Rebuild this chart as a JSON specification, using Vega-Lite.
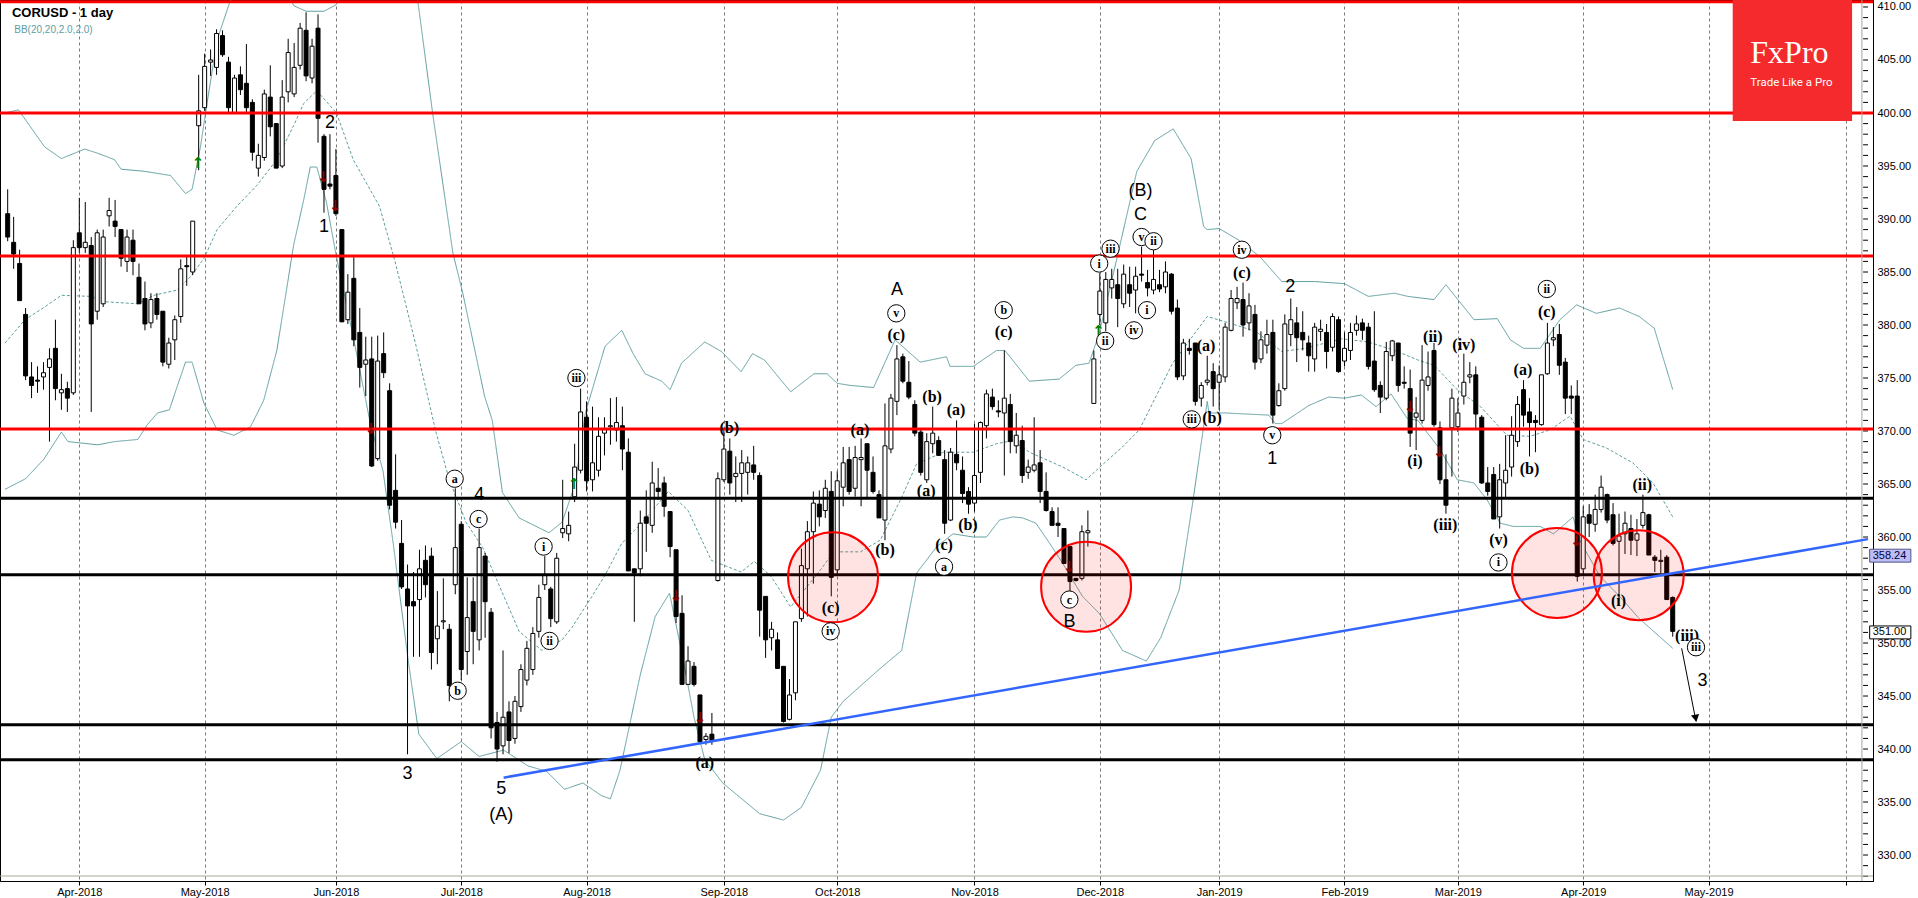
{
"$schema": "https://vega.github.io/schema/vega-lite/v6.json",
"width": 1873, "height": 881,
"autosize": {"type": "none"},
"padding": {"left": 0, "top": 0, "right": 45, "bottom": 17},
"background": "white",
"config": {"view": {"stroke": "#000000", "strokeWidth": 1}, "font": "Liberation Sans"},
"datasets": {
"one": [{}],
"yticks": [{"p":328},{"p":329},{"p":330},{"p":331},{"p":332},{"p":333},{"p":334},{"p":335},{"p":336},{"p":337},{"p":338},{"p":339},{"p":340},{"p":341},{"p":342},{"p":343},{"p":344},{"p":345},{"p":346},{"p":347},{"p":348},{"p":349},{"p":350},{"p":351},{"p":352},{"p":353},{"p":354},{"p":355},{"p":356},{"p":357},{"p":358},{"p":359},{"p":360},{"p":361},{"p":362},{"p":363},{"p":364},{"p":365},{"p":366},{"p":367},{"p":368},{"p":369},{"p":370},{"p":371},{"p":372},{"p":373},{"p":374},{"p":375},{"p":376},{"p":377},{"p":378},{"p":379},{"p":380},{"p":381},{"p":382},{"p":383},{"p":384},{"p":385},{"p":386},{"p":387},{"p":388},{"p":389},{"p":390},{"p":391},{"p":392},{"p":393},{"p":394},{"p":395},{"p":396},{"p":397},{"p":398},{"p":399},{"p":400},{"p":401},{"p":402},{"p":403},{"p":404},{"p":405},{"p":406},{"p":407},{"p":408},{"p":409},{"p":410}],
"candles": [
{"i":0,"o":390.5,"h":392.8,"l":387.9,"c":388.3},{"i":1,"o":387.8,"h":390.2,"l":385.3,"c":386.7},{"i":2,"o":385.8,"h":387.1,"l":382.3,"c":382.3},{"i":3,"o":381.0,"h":381.6,"l":374.8,"c":375.2},{"i":4,"o":375.1,"h":376.5,"l":373.1,"c":374.3},{"i":5,"o":374.8,"h":376.1,"l":373.6,"c":374.7},{"i":6,"o":375.1,"h":376.5,"l":373.9,"c":375.5},{"i":7,"o":376.0,"h":377.8,"l":369.0,"c":376.8},{"i":8,"o":377.8,"h":380.5,"l":372.9,"c":374.0},{"i":9,"o":373.6,"h":375.4,"l":372.0,"c":373.9},
{"i":10,"o":374.0,"h":374.65,"l":371.8,"c":373.1},{"i":11,"o":373.6,"h":388.0,"l":373.4,"c":387.3},{"i":12,"o":388.7,"h":392.0,"l":386.8,"c":387.3},{"i":13,"o":387.3,"h":391.6,"l":386.8,"c":387.8},{"i":14,"o":387.5,"h":388.3,"l":371.8,"c":380.1},{"i":15,"o":381.3,"h":389.0,"l":380.5,"c":388.7},{"i":16,"o":382.0,"h":389.0,"l":381.7,"c":388.3},{"i":17,"o":390.3,"h":392.0,"l":389.3,"c":390.8},{"i":18,"o":389.8,"h":391.8,"l":388.3,"c":389.3},{"i":19,"o":389.0,"h":389.0,"l":385.5,"c":386.3},
{"i":20,"o":386.0,"h":389.0,"l":385.0,"c":388.3},{"i":21,"o":388.0,"h":389.0,"l":384.7,"c":386.0},{"i":22,"o":384.5,"h":385.8,"l":382.0,"c":382.0},{"i":23,"o":382.5,"h":384.1,"l":379.5,"c":380.1},{"i":24,"o":380.2,"h":383.0,"l":379.7,"c":382.4},{"i":25,"o":382.5,"h":383.0,"l":380.5,"c":381.0},{"i":26,"o":381.3,"h":381.3,"l":376.1,"c":376.5},{"i":27,"o":376.3,"h":378.8,"l":375.9,"c":378.3},{"i":28,"o":378.6,"h":380.9,"l":376.7,"c":380.5},{"i":29,"o":380.8,"h":386.2,"l":380.2,"c":385.3},
{"i":30,"o":385.6,"h":386.5,"l":383.7,"c":385.5},{"i":31,"o":385.0,"h":389.8,"l":384.7,"c":389.8},{"i":32,"o":398.8,"h":403.6,"l":394.6,"c":400.2},{"i":33,"o":400.5,"h":405.6,"l":400.2,"c":404.4},{"i":34,"o":404.8,"h":406.0,"l":403.5,"c":405.0},{"i":35,"o":404.3,"h":407.9,"l":403.6,"c":407.5},{"i":36,"o":407.3,"h":407.8,"l":405.3,"c":405.5},{"i":37,"o":404.8,"h":405.3,"l":400.0,"c":400.5},{"i":38,"o":400.0,"h":403.6,"l":400.0,"c":403.3},{"i":39,"o":403.6,"h":404.4,"l":401.7,"c":402.2},
{"i":40,"o":402.8,"h":406.5,"l":400.0,"c":400.5},{"i":41,"o":401.0,"h":401.3,"l":395.5,"c":396.3},{"i":42,"o":394.8,"h":397.1,"l":394.0,"c":396.0},{"i":43,"o":395.8,"h":402.2,"l":395.5,"c":401.8},{"i":44,"o":401.5,"h":404.5,"l":397.8,"c":398.7},{"i":45,"o":399.0,"h":399.0,"l":394.8,"c":394.8},{"i":46,"o":395.0,"h":403.1,"l":394.8,"c":401.5},{"i":47,"o":402.0,"h":407.0,"l":401.0,"c":405.7},{"i":48,"o":401.8,"h":406.6,"l":401.5,"c":404.3},{"i":49,"o":404.5,"h":408.5,"l":404.1,"c":408.0},
{"i":50,"o":407.8,"h":409.5,"l":403.0,"c":403.5},{"i":51,"o":403.3,"h":407.0,"l":402.8,"c":406.3},{"i":52,"o":408.0,"h":409.3,"l":397.2,"c":399.5},{"i":53,"o":397.8,"h":398.0,"l":390.6,"c":392.8},{"i":54,"o":393.3,"h":398.0,"l":392.8,"c":393.1},{"i":55,"o":394.1,"h":396.6,"l":390.3,"c":390.5},{"i":56,"o":389.0,"h":389.0,"l":380.3,"c":380.3},{"i":57,"o":380.5,"h":384.8,"l":380.1,"c":383.1},{"i":58,"o":384.4,"h":386.4,"l":378.0,"c":378.6},{"i":59,"o":379.3,"h":381.6,"l":374.1,"c":376.0},
{"i":60,"o":376.3,"h":378.9,"l":373.3,"c":376.7},{"i":61,"o":376.8,"h":378.9,"l":366.6,"c":366.7},{"i":62,"o":367.4,"h":379.0,"l":367.2,"c":376.6},{"i":63,"o":377.3,"h":379.3,"l":375.0,"c":375.5},{"i":64,"o":373.8,"h":374.5,"l":362.6,"c":363.0},{"i":65,"o":364.4,"h":367.8,"l":360.8,"c":361.4},{"i":66,"o":359.4,"h":361.6,"l":355.1,"c":355.3},{"i":67,"o":355.1,"h":357.4,"l":339.5,"c":353.5},{"i":68,"o":353.9,"h":356.7,"l":348.7,"c":353.5},{"i":69,"o":354.1,"h":358.8,"l":348.7,"c":357.0},
{"i":70,"o":357.8,"h":359.2,"l":354.3,"c":355.5},{"i":71,"o":358.2,"h":359.0,"l":347.5,"c":349.1},{"i":72,"o":350.4,"h":354.9,"l":348.0,"c":351.6},{"i":73,"o":352.0,"h":356.1,"l":351.3,"c":352.1},{"i":74,"o":351.3,"h":351.8,"l":344.5,"c":346.0},{"i":75,"o":355.5,"h":364.6,"l":354.6,"c":359.0},{"i":76,"o":361.2,"h":361.5,"l":346.5,"c":347.5},{"i":77,"o":349.2,"h":356.2,"l":347.0,"c":352.4},{"i":78,"o":353.9,"h":356.2,"l":348.0,"c":351.1},{"i":79,"o":350.3,"h":360.8,"l":349.3,"c":359.0},
{"i":80,"o":358.2,"h":358.5,"l":350.5,"c":353.9},{"i":81,"o":352.9,"h":353.3,"l":341.0,"c":342.0},{"i":82,"o":342.5,"h":343.5,"l":338.8,"c":340.0},{"i":83,"o":340.3,"h":349.3,"l":339.5,"c":343.0},{"i":84,"o":343.5,"h":344.5,"l":339.6,"c":340.8},{"i":85,"o":341.0,"h":345.0,"l":340.5,"c":344.5},{"i":86,"o":344.0,"h":348.0,"l":343.5,"c":347.5},{"i":87,"o":346.5,"h":350.2,"l":346.0,"c":349.5},{"i":88,"o":347.5,"h":351.5,"l":347.0,"c":350.9},{"i":89,"o":351.1,"h":355.5,"l":350.5,"c":354.3},
{"i":90,"o":355.5,"h":358.2,"l":355.0,"c":356.4},{"i":91,"o":355.1,"h":355.3,"l":351.5,"c":352.3},{"i":92,"o":352.0,"h":358.5,"l":351.8,"c":358.0},{"i":93,"o":360.4,"h":365.4,"l":359.9,"c":360.8},{"i":94,"o":360.3,"h":362.4,"l":359.6,"c":361.1},{"i":95,"o":363.8,"h":368.8,"l":363.3,"c":366.6},{"i":96,"o":366.3,"h":374.0,"l":366.0,"c":371.8},{"i":97,"o":371.3,"h":372.8,"l":364.3,"c":365.3},{"i":98,"o":365.4,"h":372.3,"l":364.3,"c":367.0},{"i":99,"o":366.3,"h":371.3,"l":365.7,"c":369.5},
{"i":100,"o":369.8,"h":371.3,"l":367.7,"c":370.2},{"i":101,"o":370.4,"h":373.1,"l":368.7,"c":370.5},{"i":102,"o":370.1,"h":373.2,"l":369.0,"c":370.8},{"i":103,"o":370.5,"h":372.3,"l":366.3,"c":368.3},{"i":104,"o":368.0,"h":369.3,"l":356.8,"c":356.8},{"i":105,"o":357.0,"h":357.0,"l":352.0,"c":356.6},{"i":106,"o":357.0,"h":362.5,"l":356.3,"c":361.3},{"i":107,"o":361.9,"h":364.4,"l":358.6,"c":361.3},{"i":108,"o":361.1,"h":367.1,"l":360.4,"c":365.1},{"i":109,"o":364.6,"h":366.5,"l":363.5,"c":364.3},
{"i":110,"o":365.1,"h":365.7,"l":361.9,"c":362.9},{"i":111,"o":362.4,"h":362.4,"l":358.1,"c":359.1},{"i":112,"o":358.8,"h":358.8,"l":351.9,"c":352.5},{"i":113,"o":352.8,"h":354.5,"l":346.1,"c":346.1},{"i":114,"o":346.1,"h":349.7,"l":346.1,"c":348.3},{"i":115,"o":347.8,"h":348.2,"l":345.9,"c":346.1},{"i":116,"o":345.1,"h":345.1,"l":340.5,"c":340.7},{"i":117,"o":340.9,"h":341.5,"l":340.4,"c":341.2},{"i":118,"o":341.4,"h":343.4,"l":340.4,"c":340.8},{"i":119,"o":355.9,"h":366.1,"l":355.8,"c":365.5},
{"i":120,"o":365.4,"h":370.1,"l":365.2,"c":368.3},{"i":121,"o":368.1,"h":369.3,"l":364.0,"c":365.1},{"i":122,"o":365.7,"h":367.6,"l":363.3,"c":366.0},{"i":123,"o":366.0,"h":368.2,"l":363.3,"c":367.0},{"i":124,"o":366.1,"h":367.6,"l":364.0,"c":367.0},{"i":125,"o":366.8,"h":368.6,"l":365.4,"c":366.1},{"i":126,"o":365.8,"h":366.1,"l":350.6,"c":353.1},{"i":127,"o":354.4,"h":354.4,"l":348.6,"c":350.3},{"i":128,"o":350.5,"h":352.0,"l":349.3,"c":351.3},{"i":129,"o":350.3,"h":351.0,"l":347.6,"c":347.6},
{"i":130,"o":347.8,"h":347.8,"l":342.5,"c":342.6},{"i":131,"o":342.8,"h":346.6,"l":342.7,"c":345.1},{"i":132,"o":345.3,"h":352.0,"l":344.6,"c":352.0},{"i":133,"o":352.3,"h":358.9,"l":352.0,"c":357.3},{"i":134,"o":357.0,"h":361.5,"l":352.5,"c":360.5},{"i":135,"o":360.5,"h":364.3,"l":355.6,"c":363.2},{"i":136,"o":363.1,"h":364.4,"l":361.0,"c":361.9},{"i":137,"o":362.5,"h":365.4,"l":361.8,"c":364.6},{"i":138,"o":364.3,"h":366.2,"l":354.4,"c":356.2},{"i":139,"o":356.9,"h":366.2,"l":356.4,"c":365.3},
{"i":140,"o":364.7,"h":368.5,"l":362.9,"c":367.0},{"i":141,"o":367.3,"h":368.5,"l":364.0,"c":364.3},{"i":142,"o":364.6,"h":368.6,"l":363.8,"c":367.5},{"i":143,"o":367.3,"h":369.3,"l":362.9,"c":367.5},{"i":144,"o":368.8,"h":368.8,"l":363.6,"c":366.3},{"i":145,"o":366.1,"h":367.6,"l":364.1,"c":364.3},{"i":146,"o":364.0,"h":364.4,"l":361.8,"c":361.8},{"i":147,"o":361.6,"h":372.6,"l":359.7,"c":368.6},{"i":148,"o":368.3,"h":373.5,"l":367.9,"c":373.1},{"i":149,"o":372.8,"h":378.1,"l":371.5,"c":376.8},
{"i":150,"o":377.0,"h":377.3,"l":374.5,"c":374.7},{"i":151,"o":374.6,"h":376.6,"l":373.0,"c":373.2},{"i":152,"o":372.5,"h":372.9,"l":369.5,"c":369.8},{"i":153,"o":369.9,"h":370.1,"l":365.8,"c":366.1},{"i":154,"o":365.4,"h":369.8,"l":365.1,"c":369.0},{"i":155,"o":368.8,"h":372.3,"l":367.9,"c":369.8},{"i":156,"o":369.1,"h":369.5,"l":367.7,"c":367.7},{"i":157,"o":367.3,"h":368.2,"l":360.3,"c":361.3},{"i":158,"o":361.6,"h":368.4,"l":361.5,"c":368.0},{"i":159,"o":367.8,"h":371.0,"l":366.3,"c":367.0},
{"i":160,"o":366.3,"h":367.6,"l":363.2,"c":364.1},{"i":161,"o":364.3,"h":364.7,"l":362.2,"c":363.1},{"i":162,"o":363.2,"h":370.7,"l":362.4,"c":365.8},{"i":163,"o":366.1,"h":370.9,"l":365.1,"c":370.8},{"i":164,"o":370.5,"h":373.9,"l":369.3,"c":373.5},{"i":165,"o":373.2,"h":374.0,"l":372.0,"c":372.3},{"i":166,"o":371.9,"h":372.9,"l":371.3,"c":371.8},{"i":167,"o":371.7,"h":377.6,"l":365.8,"c":373.1},{"i":168,"o":372.5,"h":373.5,"l":367.9,"c":369.0},{"i":169,"o":368.6,"h":371.7,"l":367.9,"c":369.6},
{"i":170,"o":369.1,"h":370.5,"l":365.1,"c":365.8},{"i":171,"o":366.1,"h":367.3,"l":365.5,"c":366.6},{"i":172,"o":366.3,"h":371.3,"l":366.1,"c":366.8},{"i":173,"o":367.0,"h":368.2,"l":363.2,"c":364.3},{"i":174,"o":364.3,"h":366.1,"l":362.4,"c":362.5},{"i":175,"o":362.4,"h":362.8,"l":361.1,"c":361.1},{"i":176,"o":361.3,"h":362.8,"l":360.0,"c":361.1},{"i":177,"o":360.8,"h":360.8,"l":357.5,"c":357.5},{"i":178,"o":359.1,"h":359.1,"l":354.8,"c":355.8},{"i":179,"o":356.1,"h":356.1,"l":355.8,"c":355.9},
{"i":180,"o":356.1,"h":361.1,"l":355.9,"c":360.5},{"i":181,"o":360.4,"h":362.5,"l":359.1,"c":360.6},{"i":182,"o":372.6,"h":377.6,"l":372.6,"c":376.8},{"i":183,"o":381.0,"h":384.9,"l":380.0,"c":383.2},{"i":184,"o":380.2,"h":385.0,"l":379.4,"c":384.3},{"i":185,"o":383.5,"h":385.3,"l":382.5,"c":384.3},{"i":186,"o":383.8,"h":385.3,"l":379.8,"c":382.5},{"i":187,"o":382.0,"h":385.7,"l":381.6,"c":384.8},{"i":188,"o":383.8,"h":385.5,"l":381.7,"c":383.0},{"i":189,"o":383.3,"h":385.5,"l":381.1,"c":384.6},
{"i":190,"o":384.8,"h":387.4,"l":384.1,"c":384.7},{"i":191,"o":384.0,"h":385.2,"l":382.7,"c":383.5},{"i":192,"o":383.3,"h":387.4,"l":382.9,"c":384.3},{"i":193,"o":383.8,"h":385.2,"l":383.1,"c":383.4},{"i":194,"o":383.6,"h":386.0,"l":383.0,"c":385.0},{"i":195,"o":384.8,"h":384.9,"l":381.0,"c":381.3},{"i":196,"o":381.6,"h":382.4,"l":374.8,"c":375.1},{"i":197,"o":375.2,"h":378.7,"l":374.8,"c":378.3},{"i":198,"o":377.8,"h":378.7,"l":377.2,"c":377.6},{"i":199,"o":378.3,"h":378.3,"l":372.4,"c":372.8},
{"i":200,"o":373.1,"h":374.6,"l":372.3,"c":374.3},{"i":201,"o":374.6,"h":377.1,"l":374.3,"c":374.8},{"i":202,"o":375.6,"h":376.4,"l":372.3,"c":374.0},{"i":203,"o":374.6,"h":376.2,"l":372.0,"c":375.3},{"i":204,"o":375.1,"h":380.2,"l":374.6,"c":379.8},{"i":205,"o":379.5,"h":383.3,"l":379.4,"c":382.5},{"i":206,"o":382.1,"h":383.6,"l":381.5,"c":382.5},{"i":207,"o":382.4,"h":384.0,"l":378.9,"c":380.0},{"i":208,"o":380.2,"h":383.0,"l":379.5,"c":381.8},{"i":209,"o":381.0,"h":381.9,"l":375.8,"c":376.5},
{"i":210,"o":376.8,"h":379.4,"l":376.4,"c":378.6},{"i":211,"o":378.1,"h":380.5,"l":377.3,"c":379.1},{"i":212,"o":379.3,"h":380.5,"l":370.7,"c":371.5},{"i":213,"o":372.4,"h":374.5,"l":372.3,"c":373.8},{"i":214,"o":374.0,"h":381.0,"l":373.8,"c":380.1},{"i":215,"o":379.1,"h":382.5,"l":378.0,"c":380.5},{"i":216,"o":380.2,"h":381.7,"l":376.5,"c":378.8},{"i":217,"o":379.3,"h":381.3,"l":377.6,"c":378.6},{"i":218,"o":378.3,"h":379.0,"l":375.6,"c":377.1},{"i":219,"o":376.8,"h":380.2,"l":375.6,"c":379.8},
{"i":220,"o":379.4,"h":380.5,"l":378.5,"c":379.6},{"i":221,"o":379.3,"h":380.1,"l":375.9,"c":377.5},{"i":222,"o":377.9,"h":381.1,"l":377.5,"c":380.8},{"i":223,"o":380.5,"h":380.8,"l":375.5,"c":375.6},{"i":224,"o":376.6,"h":379.3,"l":376.1,"c":377.8},{"i":225,"o":377.6,"h":380.2,"l":376.7,"c":379.3},{"i":226,"o":379.5,"h":380.9,"l":379.0,"c":380.1},{"i":227,"o":380.2,"h":380.6,"l":378.6,"c":379.5},{"i":228,"o":379.8,"h":380.2,"l":375.8,"c":376.1},{"i":229,"o":376.6,"h":381.3,"l":373.7,"c":373.9},
{"i":230,"o":374.3,"h":374.7,"l":371.7,"c":373.2},{"i":231,"o":373.1,"h":378.4,"l":372.9,"c":377.5},{"i":232,"o":377.1,"h":378.6,"l":376.6,"c":378.5},{"i":233,"o":378.3,"h":378.3,"l":373.7,"c":374.3},{"i":234,"o":374.6,"h":376.1,"l":374.0,"c":374.5},{"i":235,"o":374.0,"h":375.8,"l":368.5,"c":369.8},{"i":236,"o":371.3,"h":373.2,"l":368.2,"c":371.7},{"i":237,"o":371.0,"h":378.1,"l":370.7,"c":374.8},{"i":238,"o":374.3,"h":377.5,"l":373.8,"c":375.1},{"i":239,"o":377.6,"h":378.3,"l":370.4,"c":370.6},
{"i":240,"o":370.3,"h":370.9,"l":365.0,"c":365.4},{"i":241,"o":365.4,"h":367.8,"l":362.2,"c":363.0},{"i":242,"o":370.3,"h":374.0,"l":365.7,"c":373.1},{"i":243,"o":370.4,"h":373.1,"l":369.9,"c":371.7},{"i":244,"o":373.3,"h":377.3,"l":372.5,"c":374.6},{"i":245,"o":375.1,"h":376.5,"l":374.5,"c":375.3},{"i":246,"o":375.3,"h":376.1,"l":370.1,"c":371.6},{"i":247,"o":371.3,"h":371.5,"l":365.0,"c":365.1},{"i":248,"o":365.1,"h":366.6,"l":363.9,"c":364.3},{"i":249,"o":365.9,"h":366.6,"l":361.7,"c":361.7},
{"i":250,"o":361.9,"h":366.9,"l":360.8,"c":365.4},{"i":251,"o":365.1,"h":369.6,"l":363.7,"c":366.3},{"i":252,"o":366.6,"h":371.4,"l":365.7,"c":369.6},{"i":253,"o":369.0,"h":373.3,"l":368.5,"c":372.5},{"i":254,"o":373.9,"h":374.8,"l":370.4,"c":371.5},{"i":255,"o":371.8,"h":373.1,"l":367.6,"c":370.8},{"i":256,"o":371.0,"h":371.5,"l":368.0,"c":370.8},{"i":257,"o":370.6,"h":375.3,"l":370.5,"c":375.3},{"i":258,"o":375.4,"h":380.2,"l":375.3,"c":378.3},{"i":259,"o":378.6,"h":379.8,"l":378.0,"c":378.8},
{"i":260,"o":379.1,"h":380.1,"l":375.3,"c":376.2},{"i":261,"o":376.5,"h":376.9,"l":371.6,"c":373.1},{"i":262,"o":373.3,"h":374.3,"l":371.6,"c":373.1},{"i":263,"o":373.3,"h":374.8,"l":355.8,"c":356.3},{"i":264,"o":357.0,"h":362.9,"l":356.5,"c":361.9},{"i":265,"o":362.1,"h":363.1,"l":360.0,"c":361.3},{"i":266,"o":361.2,"h":364.0,"l":360.5,"c":362.6},{"i":267,"o":362.6,"h":365.8,"l":362.3,"c":364.7},{"i":268,"o":364.0,"h":364.1,"l":361.3,"c":361.6},{"i":269,"o":362.1,"h":363.2,"l":359.2,"c":359.4},
{"i":270,"o":359.6,"h":362.2,"l":354.2,"c":360.1},{"i":271,"o":360.3,"h":362.4,"l":358.4,"c":361.3},{"i":272,"o":360.8,"h":362.1,"l":358.3,"c":359.7},{"i":273,"o":359.7,"h":361.7,"l":358.2,"c":360.3},{"i":274,"o":361.1,"h":364.0,"l":360.8,"c":362.3},{"i":275,"o":362.1,"h":362.2,"l":358.3,"c":358.3},{"i":276,"o":358.1,"h":358.3,"l":356.7,"c":357.8},{"i":277,"o":357.7,"h":358.8,"l":356.6,"c":357.8},{"i":278,"o":358.1,"h":358.3,"l":354.1,"c":354.1},{"i":279,"o":354.3,"h":354.4,"l":350.6,"c":351.1}
],
"bb": [
{"b":"up","i":-0.45,"v":400.0},{"b":"up","i":1.8,"v":400.3},{"b":"up","i":6.2,"v":396.8},{"b":"up","i":9,"v":395.7},{"b":"up","i":12.9,"v":396.6},{"b":"up","i":15.1,"v":396.2},{"b":"up","i":17.9,"v":395.6},{"b":"up","i":19,"v":394.7},{"b":"up","i":22.9,"v":394.5},{"b":"up","i":27.3,"v":394.1},{"b":"up","i":29.8,"v":392.4},{"b":"up","i":30.9,"v":392.8},{"b":"up","i":32.3,"v":396.8},{"b":"up","i":33.4,"v":400.9},{"b":"up","i":35.1,"v":406.9},{"b":"up","i":37.3,"v":410.6},{"b":"up","i":40,"v":411.5},{"b":"up","i":44,"v":411.8},{"b":"up","i":47,"v":411.0},{"b":"up","i":48,"v":410.1},{"b":"up","i":50,"v":409.6},{"b":"up","i":53,"v":409.6},{"b":"up","i":55,"v":410.2},{"b":"up","i":57,"v":412},{"b":"up","i":62,"v":414},{"b":"up","i":66,"v":413},{"b":"up","i":68.7,"v":410.66},{"b":"up","i":71.2,"v":400},{"b":"up","i":74.6,"v":386.8},{"b":"up","i":76.3,"v":382.9},{"b":"up","i":79.9,"v":373.3},{"b":"up","i":81.2,"v":371.0},{"b":"up","i":82.9,"v":364.2},{"b":"up","i":85.7,"v":361.8},{"b":"up","i":90.7,"v":360.4},{"b":"up","i":92.9,"v":361.4},{"b":"up","i":95.1,"v":365.0},{"b":"up","i":96.8,"v":371.7},{"b":"up","i":100.1,"v":378.0},{"b":"up","i":102.9,"v":379.5},{"b":"up","i":104.8,"v":377.3},{"b":"up","i":106.8,"v":375.4},{"b":"up","i":109.6,"v":374.7},{"b":"up","i":111,"v":373.9},{"b":"up","i":112.9,"v":376.4},{"b":"up","i":116.8,"v":378.4},{"b":"up","i":119.6,"v":377.5},{"b":"up","i":122.9,"v":375.6},{"b":"up","i":124.8,"v":377.3},{"b":"up","i":126.8,"v":376.7},{"b":"up","i":131.2,"v":373.7},{"b":"up","i":135.1,"v":375.4},{"b":"up","i":137.3,"v":375.4},{"b":"up","i":139,"v":374.5},{"b":"up","i":141.2,"v":374.3},{"b":"up","i":145.1,"v":374.1},{"b":"up","i":148.7,"v":378.6},{"b":"up","i":152.9,"v":376.5},{"b":"up","i":157.3,"v":377.0},{"b":"up","i":157.9,"v":376.1},{"b":"up","i":161.8,"v":376.1},{"b":"up","i":165.7,"v":377.6},{"b":"up","i":167.1,"v":377.6},{"b":"up","i":171.2,"v":374.7},{"b":"up","i":176.2,"v":374.9},{"b":"up","i":179,"v":376.2},{"b":"up","i":181.2,"v":376.4},{"b":"up","i":182.9,"v":379.2},{"b":"up","i":186.2,"v":387.1},{"b":"up","i":189.2,"v":394.5},{"b":"up","i":192.2,"v":397.4},{"b":"up","i":195.3,"v":398.5},{"b":"up","i":198.3,"v":395.7},{"b":"up","i":200.4,"v":389.3},{"b":"up","i":201,"v":389.0},{"b":"up","i":203,"v":389.1},{"b":"up","i":206.3,"v":388.0},{"b":"up","i":209.9,"v":386.4},{"b":"up","i":213.5,"v":384.1},{"b":"up","i":219,"v":384.1},{"b":"up","i":224,"v":383.9},{"b":"up","i":228,"v":382.7},{"b":"up","i":232.4,"v":383.0},{"b":"up","i":234.6,"v":382.7},{"b":"up","i":239,"v":382.4},{"b":"up","i":241,"v":383.8},{"b":"up","i":245.7,"v":380.5},{"b":"up","i":249.6,"v":380.6},{"b":"up","i":251.8,"v":378.6},{"b":"up","i":254,"v":377.8},{"b":"up","i":256.8,"v":377.8},{"b":"up","i":260.1,"v":380.5},{"b":"up","i":262.9,"v":381.9},{"b":"up","i":266.2,"v":381.1},{"b":"up","i":270.1,"v":381.6},{"b":"up","i":273.4,"v":380.8},{"b":"up","i":275.9,"v":379.7},{"b":"up","i":279,"v":373.9},
{"b":"lo","i":-0.45,"v":364.5},{"b":"lo","i":3,"v":365.5},{"b":"lo","i":6,"v":367.3},{"b":"lo","i":7.05,"v":368.2},{"b":"lo","i":9,"v":369.9},{"b":"lo","i":10.1,"v":369.0},{"b":"lo","i":15.1,"v":368.7},{"b":"lo","i":17.9,"v":369.0},{"b":"lo","i":21.8,"v":369.2},{"b":"lo","i":23.4,"v":370.6},{"b":"lo","i":25.1,"v":371.7},{"b":"lo","i":27.1,"v":372.0},{"b":"lo","i":28.4,"v":374.2},{"b":"lo","i":29.8,"v":376.5},{"b":"lo","i":30.9,"v":376.5},{"b":"lo","i":32.9,"v":372.6},{"b":"lo","i":35.1,"v":370.1},{"b":"lo","i":37.9,"v":369.6},{"b":"lo","i":40.7,"v":370.4},{"b":"lo","i":42.9,"v":372.9},{"b":"lo","i":45.1,"v":377.6},{"b":"lo","i":46.8,"v":383.6},{"b":"lo","i":47.9,"v":387.5},{"b":"lo","i":49.6,"v":391.8},{"b":"lo","i":50.7,"v":394.9},{"b":"lo","i":51.8,"v":394.9},{"b":"lo","i":53.4,"v":391.6},{"b":"lo","i":55.1,"v":386.4},{"b":"lo","i":57.9,"v":378.9},{"b":"lo","i":60.7,"v":370.9},{"b":"lo","i":62.9,"v":366.2},{"b":"lo","i":64.6,"v":359.4},{"b":"lo","i":67.1,"v":348.4},{"b":"lo","i":68.9,"v":341.4},{"b":"lo","i":71.9,"v":339.1},{"b":"lo","i":76,"v":340.7},{"b":"lo","i":79,"v":339.3},{"b":"lo","i":83.1,"v":339.9},{"b":"lo","i":87.2,"v":338.4},{"b":"lo","i":90.3,"v":337.9},{"b":"lo","i":93.3,"v":336.2},{"b":"lo","i":96.4,"v":336.8},{"b":"lo","i":99.5,"v":335.6},{"b":"lo","i":101,"v":335.3},{"b":"lo","i":102.6,"v":338.0},{"b":"lo","i":106,"v":347.0},{"b":"lo","i":108.5,"v":352.5},{"b":"lo","i":110.9,"v":354.7},{"b":"lo","i":113,"v":349.0},{"b":"lo","i":115,"v":343.0},{"b":"lo","i":116.8,"v":339.0},{"b":"lo","i":119.8,"v":336.8},{"b":"lo","i":126,"v":333.9},{"b":"lo","i":130,"v":333.3},{"b":"lo","i":133,"v":334.5},{"b":"lo","i":136.2,"v":338.0},{"b":"lo","i":138,"v":343.0},{"b":"lo","i":140,"v":344.5},{"b":"lo","i":143,"v":346.0},{"b":"lo","i":146,"v":347.5},{"b":"lo","i":149.8,"v":349.3},{"b":"lo","i":152.3,"v":356.6},{"b":"lo","i":155.7,"v":359.1},{"b":"lo","i":158.4,"v":360.3},{"b":"lo","i":161.8,"v":360.0},{"b":"lo","i":164,"v":360.0},{"b":"lo","i":166.2,"v":361.6},{"b":"lo","i":168.4,"v":361.9},{"b":"lo","i":170.1,"v":361.8},{"b":"lo","i":172.3,"v":361.3},{"b":"lo","i":174.6,"v":359.4},{"b":"lo","i":176.8,"v":357.5},{"b":"lo","i":180.1,"v":354.4},{"b":"lo","i":182.9,"v":352.8},{"b":"lo","i":185.7,"v":350.3},{"b":"lo","i":186.8,"v":349.3},{"b":"lo","i":190.8,"v":348.3},{"b":"lo","i":193.2,"v":350.5},{"b":"lo","i":196.3,"v":355.0},{"b":"lo","i":198.5,"v":363.0},{"b":"lo","i":201,"v":372.8},{"b":"lo","i":201.3,"v":371.7},{"b":"lo","i":204.1,"v":371.7},{"b":"lo","i":211.3,"v":371.5},{"b":"lo","i":212.4,"v":370.7},{"b":"lo","i":213.5,"v":370.7},{"b":"lo","i":218,"v":372.4},{"b":"lo","i":221.3,"v":373.2},{"b":"lo","i":224,"v":373.1},{"b":"lo","i":226.8,"v":373.4},{"b":"lo","i":229.3,"v":372.3},{"b":"lo","i":231.8,"v":373.5},{"b":"lo","i":234.5,"v":371.2},{"b":"lo","i":236.3,"v":371.0},{"b":"lo","i":240.1,"v":368.2},{"b":"lo","i":242.9,"v":365.4},{"b":"lo","i":245.7,"v":365.1},{"b":"lo","i":247.9,"v":363.5},{"b":"lo","i":250.1,"v":361.3},{"b":"lo","i":252.3,"v":361.0},{"b":"lo","i":256.8,"v":361.0},{"b":"lo","i":259,"v":360.3},{"b":"lo","i":260.7,"v":361.1},{"b":"lo","i":262.3,"v":361.9},{"b":"lo","i":263.4,"v":359.7},{"b":"lo","i":266.8,"v":356.3},{"b":"lo","i":270.1,"v":354.4},{"b":"lo","i":273.4,"v":352.3},{"b":"lo","i":276.8,"v":350.6},{"b":"lo","i":279,"v":349.5},
{"b":"mid","i":-0.45,"v":378.3},{"b":"mid","i":2.9,"v":380.5},{"b":"mid","i":6.2,"v":381.7},{"b":"mid","i":9,"v":382.8},{"b":"mid","i":14,"v":382.7},{"b":"mid","i":16.2,"v":382.2},{"b":"mid","i":21.8,"v":382.0},{"b":"mid","i":24.5,"v":382.8},{"b":"mid","i":28.4,"v":383.3},{"b":"mid","i":30.7,"v":384.6},{"b":"mid","i":32.9,"v":386.3},{"b":"mid","i":35.1,"v":389.0},{"b":"mid","i":38.4,"v":391.2},{"b":"mid","i":41.8,"v":393.2},{"b":"mid","i":45.1,"v":395.6},{"b":"mid","i":47.9,"v":398.8},{"b":"mid","i":49.6,"v":400.9},{"b":"mid","i":51.8,"v":402.1},{"b":"mid","i":55.1,"v":400.0},{"b":"mid","i":57.9,"v":395.6},{"b":"mid","i":62.3,"v":391.2},{"b":"mid","i":64.9,"v":386.0},{"b":"mid","i":68.4,"v":378.1},{"b":"mid","i":71.8,"v":369.8},{"b":"mid","i":74,"v":365.4},{"b":"mid","i":76.8,"v":361.4},{"b":"mid","i":79.6,"v":359.0},{"b":"mid","i":82.3,"v":355.5},{"b":"mid","i":85.7,"v":351.1},{"b":"mid","i":89.5,"v":349.3},{"b":"mid","i":92.9,"v":350.3},{"b":"mid","i":94.6,"v":351.5},{"b":"mid","i":97.9,"v":354.4},{"b":"mid","i":100.1,"v":356.4},{"b":"mid","i":102.9,"v":359.4},{"b":"mid","i":106.2,"v":361.3},{"b":"mid","i":110.7,"v":364.3},{"b":"mid","i":114,"v":362.5},{"b":"mid","i":117.9,"v":357.8},{"b":"mid","i":122.9,"v":356.7},{"b":"mid","i":125.1,"v":357.7},{"b":"mid","i":127.9,"v":356.3},{"b":"mid","i":131.2,"v":353.4},{"b":"mid","i":136.2,"v":356.9},{"b":"mid","i":138.4,"v":358.6},{"b":"mid","i":142.9,"v":358.6},{"b":"mid","i":146.2,"v":359.7},{"b":"mid","i":149.6,"v":363.5},{"b":"mid","i":152.3,"v":366.9},{"b":"mid","i":156.8,"v":368.0},{"b":"mid","i":161.8,"v":368.0},{"b":"mid","i":165.7,"v":368.8},{"b":"mid","i":168.4,"v":369.1},{"b":"mid","i":171.2,"v":368.0},{"b":"mid","i":176.8,"v":366.6},{"b":"mid","i":180.7,"v":365.4},{"b":"mid","i":183.4,"v":366.8},{"b":"mid","i":186.8,"v":368.5},{"b":"mid","i":189.6,"v":370.1},{"b":"mid","i":195.2,"v":376.4},{"b":"mid","i":201,"v":380.8},{"b":"mid","i":204.6,"v":380.2},{"b":"mid","i":209.1,"v":379.4},{"b":"mid","i":213.5,"v":377.5},{"b":"mid","i":217.4,"v":377.8},{"b":"mid","i":223.5,"v":378.7},{"b":"mid","i":228,"v":378.4},{"b":"mid","i":232.4,"v":377.6},{"b":"mid","i":236.3,"v":376.7},{"b":"mid","i":239,"v":376.2},{"b":"mid","i":242.9,"v":373.9},{"b":"mid","i":246.8,"v":372.3},{"b":"mid","i":251.2,"v":369.6},{"b":"mid","i":255.1,"v":369.5},{"b":"mid","i":258.4,"v":370.1},{"b":"mid","i":261.8,"v":371.4},{"b":"mid","i":264,"v":369.2},{"b":"mid","i":267.9,"v":368.4},{"b":"mid","i":272.3,"v":367.0},{"b":"mid","i":275.7,"v":365.1},{"b":"mid","i":279,"v":361.9}
],
"redlevels": [{"p":410.5},{"p":400.0},{"p":386.5},{"p":370.2}],
"blacklevels": [{"p":363.65},{"p":356.45},{"p":342.3},{"p":339.0}],
"circles": [{"i":138.3,"p":356.2},{"i":180.7,"p":355.3},{"i":259.6,"p":356.6},{"i":273.3,"p":356.4}],
"trend": [{"i":83.1,"p":337.3},{"i":311.72,"p":359.8}],
"wavearrow": [{"i":280.5,"p":349.5},{"i":282.9,"p":342.6}],
"plain": [{"i":54.0,"p":399.1,"t":"2"},{"i":53.0,"p":389.2,"t":"1"},{"i":67.0,"p":337.6,"t":"3"},{"i":79.0,"p":364.0,"t":"4"},{"i":82.7,"p":336.2,"t":"5"},{"i":82.7,"p":333.8,"t":"(A)"},{"i":149.0,"p":383.3,"t":"A"},{"i":177.9,"p":352.0,"t":"B"},{"i":189.8,"p":392.6,"t":"(B)"},{"i":189.8,"p":390.4,"t":"C"},{"i":211.9,"p":367.4,"t":"1"},{"i":214.9,"p":383.6,"t":"2"},{"i":284.0,"p":346.4,"t":"3"}],
"paren": [{"i":116.8,"p":338.7,"t":"(a)"},{"i":120.9,"p":370.3,"t":"(b)"},{"i":137.9,"p":353.3,"t":"(c)"},{"i":142.8,"p":370.1,"t":"(a)"},{"i":147.0,"p":358.8,"t":"(b)"},{"i":148.9,"p":379.1,"t":"(c)"},{"i":154.9,"p":373.2,"t":"(b)"},{"i":153.9,"p":364.3,"t":"(a)"},{"i":158.9,"p":372.0,"t":"(a)"},{"i":156.9,"p":359.2,"t":"(c)"},{"i":160.9,"p":361.1,"t":"(b)"},{"i":166.9,"p":379.3,"t":"(c)"},{"i":200.8,"p":378.0,"t":"(a)"},{"i":201.8,"p":371.2,"t":"(b)"},{"i":206.8,"p":384.9,"t":"(c)"},{"i":238.8,"p":378.9,"t":"(ii)"},{"i":235.8,"p":367.2,"t":"(i)"},{"i":240.9,"p":361.1,"t":"(iii)"},{"i":244.0,"p":378.1,"t":"(iv)"},{"i":249.8,"p":359.7,"t":"(v)"},{"i":253.9,"p":375.8,"t":"(a)"},{"i":255.0,"p":366.4,"t":"(b)"},{"i":257.9,"p":381.2,"t":"(c)"},{"i":273.9,"p":364.9,"t":"(ii)"},{"i":269.9,"p":354.0,"t":"(i)"},{"i":281.4,"p":350.7,"t":"(iii)"}],
"circ": [{"i":74.9,"p":365.5,"t":"a"},{"i":75.4,"p":345.5,"t":"b"},{"i":78.9,"p":361.7,"t":"c"},{"i":89.8,"p":359.1,"t":"i"},{"i":90.8,"p":350.2,"t":"ii"},{"i":95.3,"p":375.0,"t":"iii"},{"i":137.9,"p":351.1,"t":"iv"},{"i":148.9,"p":381.1,"t":"v"},{"i":156.9,"p":357.2,"t":"a"},{"i":166.9,"p":381.4,"t":"b"},{"i":177.9,"p":354.1,"t":"c"},{"i":182.9,"p":385.8,"t":"i"},{"i":184.8,"p":387.2,"t":"iii"},{"i":183.9,"p":378.5,"t":"ii"},{"i":188.7,"p":379.5,"t":"iv"},{"i":190.0,"p":388.3,"t":"v"},{"i":192.0,"p":387.9,"t":"ii"},{"i":190.9,"p":381.4,"t":"i"},{"i":198.4,"p":371.1,"t":"iii"},{"i":206.8,"p":387.1,"t":"iv"},{"i":211.9,"p":369.6,"t":"v"},{"i":249.8,"p":357.6,"t":"i"},{"i":257.9,"p":383.4,"t":"ii"},{"i":282.9,"p":349.6,"t":"iii"}],
"signals": [{"i":31.9,"p":395.3,"t":"↑"},{"i":94.9,"p":365.0,"t":"↑"},{"i":182.8,"p":379.4,"t":"↑"},{"i":52.9,"p":394.0,"t":"↓"},{"i":54.9,"p":391.2,"t":"↓"},{"i":60.9,"p":370.2,"t":"↓"},{"i":112,"p":354.4,"t":"↓"},{"i":116,"p":342.9,"t":"↓"},{"i":177.9,"p":357.2,"t":"↓"},{"i":235,"p":372.3,"t":"↓"},{"i":239.9,"p":368.0,"t":"↓"},{"i":262.9,"p":359.6,"t":"↓"}]
},
"layer": [
{
"data": {"name": "bb"},
"mark": {"type": "line", "clip": true, "color": "#5f9ea0", "strokeWidth": 1},
"encoding": {
"x": {"field": "i", "type": "quantitative", "scale": {"domain": [-0.45, 311.72], "nice": false, "zero": false},
"axis": {"orient": "bottom", "title": null, "values": [12,33,55,76,97,120,139,162,183,203,224,243,264,285,308],
"labelExpr": "['Apr-2018','May-2018','Jun-2018','Jul-2018','Aug-2018','Sep-2018','Oct-2018','Nov-2018','Dec-2018','Jan-2019','Feb-2019','Mar-2019','Apr-2019','May-2019',''][indexof([12,33,55,76,97,120,139,162,183,203,224,243,264,285,308], datum.value)]",
"grid": true, "gridDash": [3,3], "gridColor": "#7a7a7a", "gridWidth": 1, "tickSize": 4, "tickColor": "#000000", "domainColor": "#000000",
"labelFont": "Liberation Sans", "labelFontSize": 11, "labelColor": "#000000", "labelPadding": 1, "labelFlush": false, "labelOverlap": false}},
"y": {"field": "v", "type": "quantitative", "scale": {"domain": [327.55, 410.66], "nice": false, "zero": false},
"axis": {"orient": "right", "title": null, "values": [330,335,340,345,350,355,360,365,370,375,380,385,390,395,400,405,410],
"format": ".2f", "grid": false, "ticks": false, "domainColor": "#000000",
"labelFont": "Liberation Sans", "labelFontSize": 11, "labelColor": "#000000", "labelPadding": 4, "labelOverlap": false, "labelFlush": false, "labelBound": false}},
"detail": {"field": "b", "type": "nominal"},
"strokeDash": {"field": "b", "type": "nominal", "scale": {"domain": ["up", "mid", "lo"], "range": [[1, 0], [3, 2], [1, 0]]}, "legend": null}
}
},
{
"data": {"name": "yticks"},
"mark": {"type": "rule", "color": "#000000", "strokeWidth": 1},
"encoding": {"x": {"datum": 310.9}, "x2": {"datum": 311.72}, "y": {"field": "p", "type": "quantitative"}}
},
{
"data": {"name": "candles"},
"mark": {"type": "rule", "color": "#000000", "strokeWidth": 1},
"encoding": {"x": {"field": "i", "type": "quantitative"}, "y": {"field": "l", "type": "quantitative"}, "y2": {"field": "h"}}
},
{
"data": {"name": "candles"},
"mark": {"type": "bar", "size": 4, "stroke": "#000000", "strokeWidth": 1},
"encoding": {"x": {"field": "i", "type": "quantitative"}, "y": {"field": "o", "type": "quantitative"}, "y2": {"field": "c"},
"fill": {"condition": {"test": "datum.c >= datum.o", "value": "#ffffff"}, "value": "#000000"}}
},
{
"data": {"name": "redlevels"},
"mark": {"type": "rule", "color": "#ff0000", "strokeWidth": 3},
"encoding": {"y": {"field": "p", "type": "quantitative"}}
},
{
"data": {"name": "blacklevels"},
"mark": {"type": "rule", "color": "#000000", "strokeWidth": 3},
"encoding": {"y": {"field": "p", "type": "quantitative"}}
},
{
"data": {"name": "one"},
"mark": {"type": "rule", "color": "#a8a89a", "strokeWidth": 1},
"encoding": {"y": {"datum": 328.02}}
},
{
"data": {"name": "one"},
"mark": {"type": "rule", "color": "#a8a89a", "strokeWidth": 1},
"encoding": {"x": {"datum": 310.7}}
},
{
"data": {"name": "circles"},
"mark": {"type": "point", "shape": "circle", "size": 8100, "filled": true, "fill": "#ff0000", "fillOpacity": 0.11, "stroke": "#ff0000", "strokeWidth": 2, "strokeOpacity": 1},
"encoding": {"x": {"field": "i", "type": "quantitative"}, "y": {"field": "p", "type": "quantitative"}}
},
{
"data": {"name": "trend"},
"mark": {"type": "line", "color": "#3366ff", "strokeWidth": 2.5},
"encoding": {"x": {"field": "i", "type": "quantitative"}, "y": {"field": "p", "type": "quantitative"}}
},
{
"data": {"name": "wavearrow"},
"mark": {"type": "line", "color": "#000000", "strokeWidth": 1},
"encoding": {"x": {"field": "i", "type": "quantitative"}, "y": {"field": "p", "type": "quantitative"}}
},
{
"data": {"name": "one"},
"mark": {"type": "point", "shape": "triangle-down", "size": 70, "filled": true, "color": "#000000", "angle": -11, "opacity": 1},
"encoding": {"x": {"datum": 282.85}, "y": {"datum": 342.9}}
},
{
"data": {"name": "signals"},
"mark": {"type": "text", "font": "DejaVu Sans", "fontSize": 15, "fontWeight": "bold", "align": "center", "baseline": "middle"},
"encoding": {"x": {"field": "i", "type": "quantitative"}, "y": {"field": "p", "type": "quantitative"}, "text": {"field": "t"},
"color": {"condition": {"test": "datum.t == '↑'", "value": "#008000"}, "value": "#8b0000"}}
},
{
"data": {"name": "plain"},
"mark": {"type": "text", "font": "Liberation Sans", "fontSize": 18, "align": "center", "baseline": "middle", "color": "#000000"},
"encoding": {"x": {"field": "i", "type": "quantitative"}, "y": {"field": "p", "type": "quantitative"}, "text": {"field": "t"}}
},
{
"data": {"name": "paren"},
"mark": {"type": "text", "font": "Liberation Serif", "fontSize": 16, "fontWeight": "bold", "align": "center", "baseline": "middle", "color": "#000000"},
"encoding": {"x": {"field": "i", "type": "quantitative"}, "y": {"field": "p", "type": "quantitative"}, "text": {"field": "t"}}
},
{
"data": {"name": "circ"},
"mark": {"type": "point", "shape": "circle", "size": 300, "filled": true, "fill": "#ffffff", "stroke": "#000000", "strokeWidth": 1, "opacity": 1},
"encoding": {"x": {"field": "i", "type": "quantitative"}, "y": {"field": "p", "type": "quantitative"}}
},
{
"data": {"name": "circ"},
"mark": {"type": "text", "font": "Liberation Serif", "fontSize": 12, "fontWeight": "bold", "align": "center", "baseline": "middle", "color": "#000000"},
"encoding": {"x": {"field": "i", "type": "quantitative"}, "y": {"field": "p", "type": "quantitative"}, "text": {"field": "t"}}
},
{
"data": {"name": "one"},
"mark": {"type": "rect", "color": "#f42a2d"},
"encoding": {"x": {"datum": 289.05}, "x2": {"datum": 309.05}, "y": {"datum": 410.66}, "y2": {"datum": 399.25}}
},
{
"data": {"name": "one"},
"mark": {"type": "text", "font": "Liberation Serif", "fontSize": 32, "align": "left", "baseline": "alphabetic", "color": "#ffffff"},
"encoding": {"x": {"datum": 292.0}, "y": {"datum": 404.7}, "text": {"value": "FxPro"}}
},
{
"data": {"name": "one"},
"mark": {"type": "text", "font": "Roboto", "fontSize": 11.5, "align": "left", "baseline": "alphabetic", "color": "#ffffff"},
"encoding": {"x": {"datum": 292.0}, "y": {"datum": 402.5}, "text": {"value": "Trade Like a Pro"}}
},
{
"data": {"name": "one"},
"mark": {"type": "text", "font": "Liberation Sans", "fontSize": 13, "fontWeight": "bold", "align": "left", "baseline": "alphabetic", "color": "#000000"},
"encoding": {"x": {"datum": 0.72}, "y": {"datum": 409.08}, "text": {"value": "CORUSD - 1 day"}}
},
{
"data": {"name": "one"},
"mark": {"type": "text", "font": "Liberation Sans", "fontSize": 10, "align": "left", "baseline": "alphabetic", "color": "#5f9ea0"},
"encoding": {"x": {"datum": 1.1}, "y": {"datum": 407.5}, "text": {"value": "BB(20,20,2.0,2.0)"}}
},
{
"data": {"name": "one"},
"mark": {"type": "rect", "fill": "#bdbdf5", "stroke": "#55558a", "strokeWidth": 1},
"encoding": {"x": {"datum": 312.0}, "x2": {"datum": 318.9}, "y": {"datum": 358.85}, "y2": {"datum": 357.63}}
},
{
"data": {"name": "one"},
"mark": {"type": "text", "font": "Liberation Sans", "fontSize": 11, "align": "left", "baseline": "middle", "color": "#000040"},
"encoding": {"x": {"datum": 312.5}, "y": {"datum": 358.24}, "text": {"value": "358.24"}}
},
{
"data": {"name": "one"},
"mark": {"type": "rect", "fill": "#ffffff", "stroke": "#000000", "strokeWidth": 1},
"encoding": {"x": {"datum": 312.0}, "x2": {"datum": 318.9}, "y": {"datum": 351.61}, "y2": {"datum": 350.39}}
},
{
"data": {"name": "one"},
"mark": {"type": "text", "font": "Liberation Sans", "fontSize": 11, "align": "left", "baseline": "middle", "color": "#000000"},
"encoding": {"x": {"datum": 312.5}, "y": {"datum": 351.0}, "text": {"value": "351.00"}}
}
]
}
